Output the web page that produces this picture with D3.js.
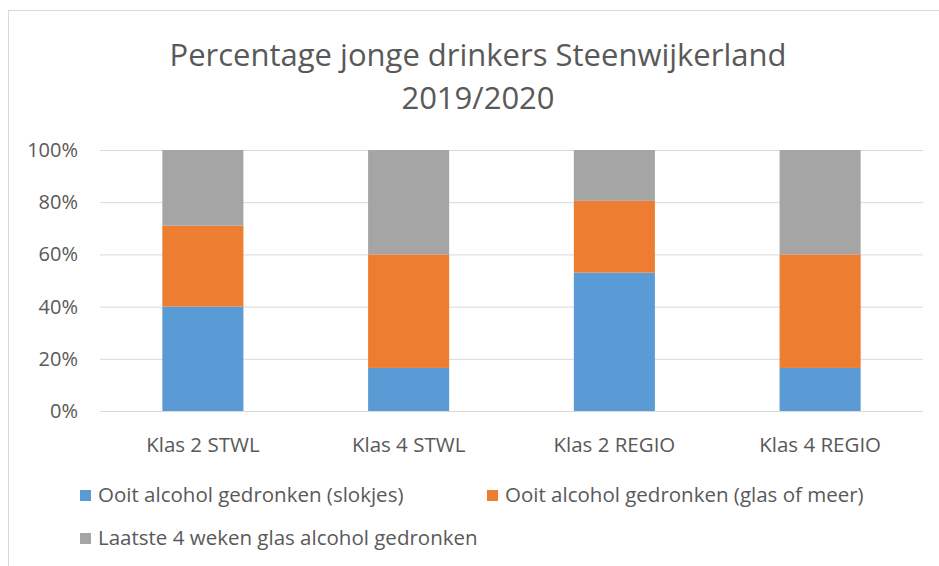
<html>
<meta charset="utf-8">

<head>
    <script src="https://d3js.org/d3.v7.min.js"></script>
    <style>
        body {
            margin: 0;
            background: white;
        }

        text {
            font-family: "Open Sans", sans-serif;
            fill: #595959;
        }

        .gridlines .domain {
            display: none;
        }

        .gridlines line {
            stroke: #d9d9d9;
        }
    </style>
</head>

<svg id="chart" width="939" height="566"></svg>

<script>
    // data (shares per class, stacked to 100%)
    const categories = ['Klas 2 STWL', 'Klas 4 STWL', 'Klas 2 REGIO', 'Klas 4 REGIO'];
    const seriesNames = [
        'Ooit alcohol gedronken (slokjes)',
        'Ooit alcohol gedronken (glas of meer)',
        'Laatste 4 weken glas alcohol gedronken'
    ];
    const slokjes = [0.40, 0.165, 0.53, 0.165];
    const glasOfMeer = [0.31, 0.435, 0.275, 0.435];
    const laatste4Weken = [0.29, 0.40, 0.195, 0.40];
    const yTicks = [0, 0.2, 0.4, 0.6, 0.8, 1];
    const titleLines = ['Percentage jonge drinkers Steenwijkerland', '2019/2020'];

    const colors = ['#5b9bd5', '#ed7d31', '#a5a5a5'];

    const svg = d3.select('svg#chart');
    const width = +svg.attr('width');
    const margin = { top: 150, right: 16, bottom: 155, left: 100 };
    const chartHeight = 566 - margin.top - margin.bottom;

    // chart area border (only top and left edges fall inside the picture)
    svg.append('rect')
        .attr('x', 8.5).attr('y', 10.5)
        .attr('width', 960).attr('height', 600)
        .attr('fill', 'white')
        .attr('stroke', '#d9d9d9');

    svg.append('text')
        .attr('text-anchor', 'middle')
        .attr('font-size', 31)
        .selectAll('tspan')
        .data(titleLines)
        .join('tspan')
        .attr('x', 478)
        .attr('y', (d, i) => 66 + i * 43)
        .text(d => d);

    const xScale = d3.scaleBand().domain(categories)
        .range([margin.left, width - margin.right])
        .paddingInner(0.606).paddingOuter(0.303);
    const yScale = d3.scaleLinear().domain([0, 1]).range([margin.top + chartHeight, margin.top]);

    let leftGridlines = d3.axisLeft(yScale)
        .tickValues(yTicks)
        .tickSize(-(width - margin.right - margin.left))
        .tickFormat('');

    svg.append('g')
        .attr('class', 'gridlines')
        .attr('transform', `translate(${margin.left},0)`)
        .call(leftGridlines);

    // y labels
    svg.append('g').selectAll('text')
        .data(yTicks)
        .join('text')
        .attr('x', 78)
        .attr('y', d => yScale(d))
        .attr('dy', '0.35em')
        .attr('text-anchor', 'end')
        .attr('font-size', 20)
        .text(d3.format('.0%'));

    const table = categories.map((c, i) => ({
        cat: c, s0: slokjes[i], s1: glasOfMeer[i], s2: laatste4Weken[i]
    }));
    const stacked = d3.stack().keys(['s0', 's1', 's2'])(table);

    svg.append('g').selectAll('g')
        .data(stacked)
        .join('g')
        .attr('fill', (d, i) => colors[i])
        .selectAll('rect')
        .data(d => d)
        .join('rect')
        .attr('x', d => xScale(d.data.cat))
        .attr('width', xScale.bandwidth())
        .attr('y', d => yScale(d[1]))
        .attr('height', d => yScale(d[0]) - yScale(d[1]));

    // category labels
    svg.append('g').selectAll('text')
        .data(categories)
        .join('text')
        .attr('x', d => xScale(d) + xScale.bandwidth() / 2)
        .attr('y', 452)
        .attr('text-anchor', 'middle')
        .attr('font-size', 20.5)
        .text(d => d);

    // legend
    const legendPos = [[80, 502], [487, 502], [80, 545]];
    let legend = svg.append('g').selectAll('g')
        .data(seriesNames)
        .join('g')
        .attr('transform', (d, i) => `translate(${legendPos[i][0]},${legendPos[i][1]})`);

    legend.append('rect')
        .attr('y', -12)
        .attr('width', 11)
        .attr('height', 11)
        .attr('fill', (d, i) => colors[i]);

    legend.append('text')
        .attr('x', 18)
        .attr('font-size', 20.5)
        .text(d => d);
</script>

</html>
